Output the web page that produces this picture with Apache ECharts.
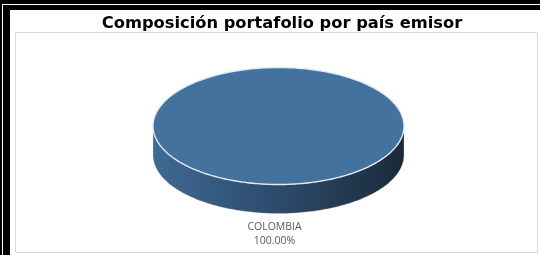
<!DOCTYPE html>
<html>
<head>
<meta charset="utf-8">
<script src="https://cdn.jsdelivr.net/npm/echarts@6/dist/echarts.min.js"></script>
<style>
html,body{margin:0;padding:0;background:#fff;}
#chart{width:540px;height:255px;}
</style>
</head>
<body>
<div id="chart"></div>
<script>
// ---- data ----
var titleText = 'Composición portafolio por país emisor';
var categories = ['COLOMBIA'];
var values = [100];
var labelValues = ['100.00%'];

var chart = echarts.init(document.getElementById('chart'), null, {renderer: 'canvas'});

var total = values.reduce(function (a, b) { return a + b; }, 0);
var starts = [];
(function () { var acc = 0; values.forEach(function (v) { starts.push(acc); acc += v; }); })();

// pie geometry (layout)
var CX = 278.5, CY = 126, RX = 125.5, RY = 58.5, DEPTH = 29;

function pt(theta, dy) {
  return [CX + RX * Math.sin(theta), CY - RY * Math.cos(theta) + (dy || 0)];
}
function arcPts(a0, a1, dy) {
  var pts = [];
  var n = Math.max(2, Math.ceil(Math.abs(a1 - a0) / 0.02));
  for (var i = 0; i <= n; i++) pts.push(pt(a0 + (a1 - a0) * i / n, dy));
  return pts;
}

function renderItem(params, api) {
  var idx = params.dataIndex;
  var v = api.value(0);
  var a0 = starts[idx] / total * Math.PI * 2;
  var a1 = a0 + v / total * Math.PI * 2;
  var full = (v / total) >= 0.9999;
  var children = [];
  // side (front-visible part: angles between PI/2 and 3PI/2)
  var s0 = Math.max(a0, Math.PI / 2), s1 = Math.min(a1, Math.PI * 1.5);
  if (s1 > s0) {
    var top = arcPts(s0, s1, 0);
    var bot = arcPts(s1, s0, DEPTH);
    children.push({
      type: 'polygon',
      shape: {points: top.concat(bot)},
      style: {
        fill: {
          type: 'linear', x: 0, y: 0, x2: 1, y2: 0,
          colorStops: [
            {offset: 0, color: '#3f6a94'},
            {offset: 0.45, color: '#2e4e70'},
            {offset: 1, color: '#1b2a3a'}
          ]
        },
        stroke: 'rgba(220,225,235,0.5)', lineWidth: 0.6
      }
    });
  }
  // top face
  var topPts = full ? arcPts(0, Math.PI * 2, 0) : [[CX, CY]].concat(arcPts(a0, a1, 0));
  children.push({
    type: 'polygon',
    shape: {points: topPts},
    style: {fill: '#44729f', stroke: '#e6e9ee', lineWidth: 1.4}
  });
  // label
  var mid = (a0 + a1) / 2;
  var lp = [CX - 4 + (RX + 8) * Math.sin(mid), CY - (RY + 8) * Math.cos(mid) + (Math.cos(mid) < 0 ? DEPTH + 12.5 : 0)];
  children.push({
    type: 'text',
    style: {
      x: lp[0], y: lp[1],
      text: categories[idx] + '\n' + labelValues[idx],
      align: 'center', verticalAlign: 'middle',
      fontFamily: 'Open Sans', fontSize: 10.5, lineHeight: 14, fill: '#595959'
    }
  });
  return {type: 'group', children: children};
}

chart.setOption({
  animation: false,
  backgroundColor: '#ffffff',
  title: {
    text: titleText,
    left: 277, top: 11, textAlign: 'center',
    textStyle: {fontFamily: 'DejaVu Sans', fontWeight: 'bold', fontSize: 16.3, color: '#000'}
  },
  graphic: [
    // outer double border (left & top)
    {type: 'rect', shape: {x: 0, y: 0, width: 2, height: 255}, style: {fill: '#000'}},
    {type: 'rect', shape: {x: 0, y: 0, width: 540, height: 4}, style: {fill: '#000'}},
    {type: 'rect', shape: {x: 3, y: 5, width: 7, height: 250}, style: {fill: '#000'}},
    {type: 'rect', shape: {x: 3, y: 5, width: 537, height: 5}, style: {fill: '#000'}},
    // chart area frame
    {type: 'rect', shape: {x: 15.5, y: 32.5, width: 522, height: 220}, style: {fill: 'none', stroke: '#d9d9d9', lineWidth: 1}, z: -1}
  ],
  series: [{
    type: 'custom',
    coordinateSystem: 'none',
    renderItem: renderItem,
    data: values.map(function (v, i) { return {name: categories[i], value: [v]}; })
  }]
});
</script>
</body>
</html>
